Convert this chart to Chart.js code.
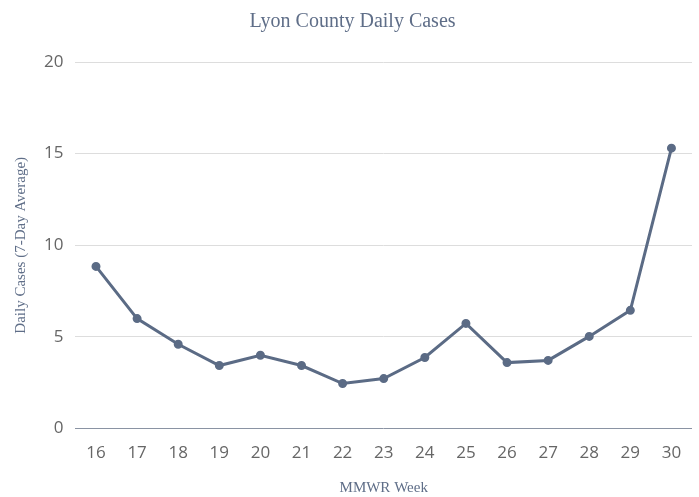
<!DOCTYPE html>
<html>
<head>
<meta charset="utf-8">
<script src="https://cdn.jsdelivr.net/npm/chart.js@4"></script>
<style>
  html, body { margin: 0; padding: 0; background: #fff; }
  #wrap { width: 699px; height: 497px; }
</style>
</head>
<body>
<div id="wrap"><canvas id="chart-cases"></canvas></div>
<script>
const weeks = ['16', '17', '18', '19', '20', '21', '22', '23', '24', '25', '26', '27', '28', '29', '30'];
const dailyCases = [8.85, 6.0, 4.6, 3.44, 4.0, 3.44, 2.46, 2.73, 3.88, 5.74, 3.6, 3.72, 5.03, 6.45, 15.3];
const yTicks = [0, 5, 10, 15, 20];

const chartCases = document.getElementById('chart-cases');
const lineColor = '#5b6b85';
const serif = '"Liberation Serif", "Times New Roman", serif';

const config = {
    type: 'line',
    data: {
        labels: weeks,
        datasets: [{
            label: 'Daily Cases',
            data: dailyCases,
            borderColor: lineColor,
            backgroundColor: lineColor,
            borderWidth: 3,
            pointRadius: 3,
            pointHoverRadius: 4,
            tension: 0
        }]
    },
    options: {
        responsive: true,
        maintainAspectRatio: false,
        animation: false,
        layout: { padding: { left: 12, right: 6, top: 6, bottom: 0 } },
        plugins: {
            legend: { display: false },
            tooltip: { enabled: false },
            title: {
                display: true,
                text: 'Lyon County Daily Cases',
                color: '#5f6e88',
                font: { family: serif, size: 20, weight: 'normal' },
                padding: { top: 4, bottom: 28 }
            }
        },
        scales: {
            x: {
                offset: true,
                grid: { display: false },
                border: { display: false },
                ticks: {
                    color: '#666',
                    font: { family: '"Open Sans", sans-serif', size: 17 },
                    padding: 6,
                    maxRotation: 0
                },
                title: {
                    display: true,
                    text: 'MMWR Week',
                    color: '#5f6e88',
                    font: { family: serif, size: 15 },
                    padding: { top: 10, bottom: 0 }
                }
            },
            y: {
                min: 0,
                max: 20,
                afterBuildTicks: (axis) => { axis.ticks = yTicks.map(v => ({ value: v })); },
                grid: {
                    color: (ctx) => ctx.tick && ctx.tick.value === 0 ? '#8a93a3' : '#dddddd',
                    lineWidth: 1,
                    drawTicks: false
                },
                border: { display: false },
                ticks: {
                    color: '#666',
                    font: { family: '"Open Sans", sans-serif', size: 17 },
                    padding: 12
                },
                title: {
                    display: true,
                    text: 'Daily Cases (7-Day Average)',
                    color: '#5f6e88',
                    font: { family: serif, size: 15 },
                    padding: { top: 0, bottom: 2 }
                }
            }
        }
    }
};
new Chart(chartCases, config);
</script>
</body>
</html>
